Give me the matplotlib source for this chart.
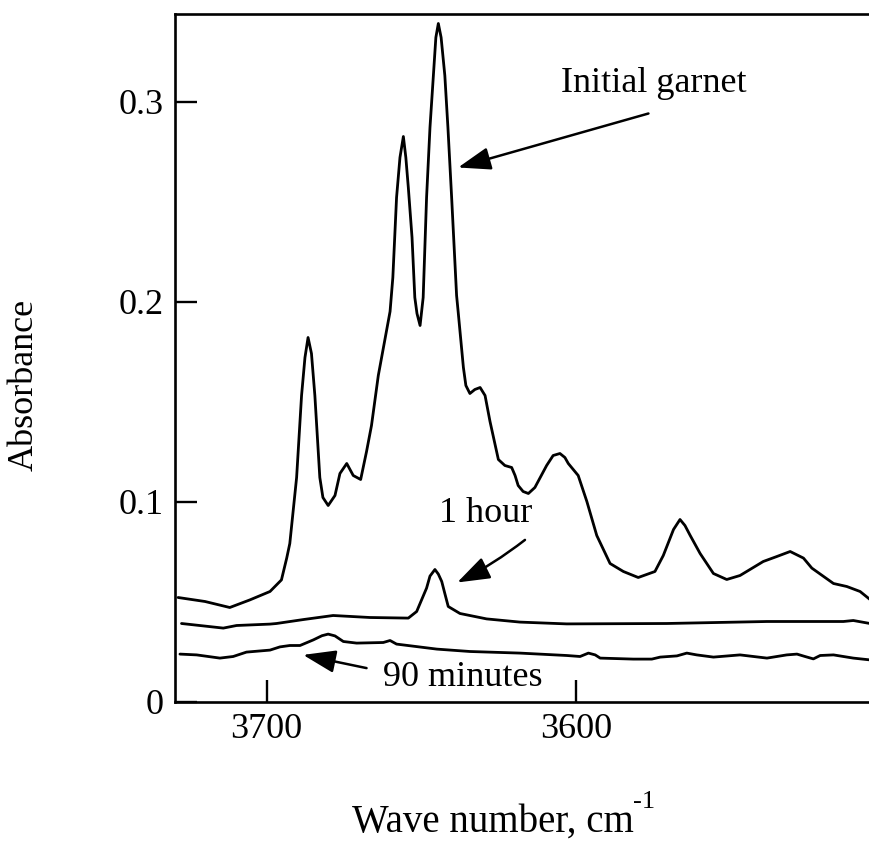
import matplotlib
matplotlib.use("Agg")
import matplotlib.pyplot as plt
from matplotlib.ticker import FixedLocator, FixedFormatter

plt.rcParams['font.family'] = ['Liberation Serif', 'DejaVu Serif']

# ---- data (wavenumber cm^-1, absorbance) ----
garnet_w = [3728.6, 3719.9, 3711.9, 3705.4, 3698.9, 3695.2, 3693.5, 3692.5, 3690.3, 3688.7, 3687.6, 3686.6,
            3685.5, 3684.4, 3682.8, 3681.8, 3680.1, 3677.9, 3676.3, 3674.1, 3672.0, 3669.6,
            3667.7, 3666.1, 3663.9, 3660.1, 3659.2, 3658.0, 3656.9, 3655.8, 3655.0, 3654.2,
            3653.0, 3652.1, 3651.4, 3650.4, 3649.4, 3648.3, 3647.2, 3646.1, 3645.3, 3644.5,
            3643.6, 3642.4, 3641.4, 3640.2, 3638.6, 3638.1, 3636.4, 3635.6, 3634.3, 3632.7,
            3631.0, 3629.4, 3627.8, 3625.1, 3623.0, 3620.8, 3619.7, 3618.7, 3617.1, 3615.4,
            3613.3, 3609.5, 3607.4, 3605.2, 3603.6, 3602.5, 3599.3, 3596.5, 3593.3, 3589.0,
            3584.7, 3579.9, 3574.5, 3571.8, 3568.5, 3566.4, 3564.8, 3563.1, 3559.9, 3555.6,
            3551.3, 3547.0, 3539.5, 3535.1, 3530.8, 3526.5, 3523.8, 3516.8, 3512.5, 3508.2,
            3505.0]
garnet_a = [0.052, 0.050, 0.047, 0.0508, 0.055, 0.0608, 0.0717, 0.079, 0.112, 0.153, 0.172, 0.182,
            0.174, 0.153, 0.112, 0.102, 0.098, 0.103, 0.114, 0.119, 0.113, 0.111,
            0.125, 0.138, 0.163, 0.195, 0.212, 0.252, 0.272, 0.2825, 0.272, 0.257,
            0.232, 0.202, 0.194, 0.188, 0.202, 0.252, 0.287, 0.313, 0.332, 0.339,
            0.332, 0.313, 0.287, 0.252, 0.203, 0.195, 0.167, 0.158, 0.154, 0.156,
            0.157, 0.153, 0.140, 0.121, 0.118, 0.117, 0.113, 0.108, 0.105, 0.104,
            0.107, 0.118, 0.123, 0.124, 0.122, 0.119, 0.113, 0.100, 0.083, 0.069,
            0.065, 0.062, 0.065, 0.073, 0.086, 0.091, 0.088, 0.083, 0.074, 0.064,
            0.061, 0.063, 0.070, 0.0725, 0.075, 0.0717, 0.0667, 0.059, 0.0575, 0.055,
            0.051]

hour_w = [3727.5, 3714.0, 3709.7, 3698.9, 3696.8, 3688.0, 3678.5, 3666.6, 3654.2, 3651.5, 3648.3,
          3647.2, 3645.6, 3644.5, 3643.4, 3642.4, 3641.3, 3637.5, 3628.9, 3618.1, 3603.0,
          3570.7, 3538.3, 3513.6, 3510.4, 3505.0]
hour_a = [0.039, 0.0367, 0.038, 0.0387, 0.039, 0.041, 0.043, 0.042, 0.0417, 0.045, 0.0567,
          0.0627, 0.066, 0.0637, 0.060, 0.054, 0.0475, 0.044, 0.0413, 0.0397, 0.0388,
          0.039, 0.040, 0.040, 0.0405, 0.039]

min90_w = [3728.0, 3722.6, 3715.1, 3710.8, 3706.5, 3698.9, 3695.7, 3692.5, 3689.2, 3684.9,
           3682.1, 3680.1, 3677.9, 3675.2, 3670.9, 3662.3, 3660.1, 3658.0, 3645.0, 3634.3,
           3618.1, 3603.0, 3598.7, 3596.0, 3593.8, 3592.2, 3581.5, 3575.5, 3572.8, 3567.4,
           3564.2, 3561.0, 3555.6, 3547.0, 3538.3, 3531.9, 3528.6, 3526.0, 3523.3, 3521.1,
           3516.8, 3510.4, 3505.0]
min90_a = [0.0237, 0.0233, 0.0217, 0.0225, 0.0247, 0.0257, 0.0273, 0.028, 0.028, 0.0308,
           0.0329, 0.0337, 0.0328, 0.030, 0.0292, 0.0295, 0.0305, 0.0287, 0.0262, 0.025,
           0.0242, 0.023, 0.0225, 0.0242, 0.0233, 0.0217, 0.0212, 0.0212, 0.0222, 0.0228,
           0.0242, 0.0233, 0.0222, 0.0233, 0.0217, 0.0233, 0.0237, 0.0225, 0.0213, 0.023,
           0.0233, 0.0217, 0.0208]

x_ticks = [3700, 3600]
x_tick_labels = ["3700", "3600"]
y_ticks = [0, 0.1, 0.2, 0.3]
y_tick_labels = ["0", "0.1", "0.2", "0.3"]

labels = ["Initial garnet", "1 hour", "90 minutes"]

# ---- figure ----
fig = plt.figure(figsize=(8.7, 8.42), dpi=100)
ax = fig.add_axes([175/870, 1 - 701.5/842, 1 - 175/870, (701.5 - 14.3)/842])

lw = 2.0
for w, a in [(garnet_w, garnet_a), (hour_w, hour_a), (min90_w, min90_a)]:
    ax.plot(w, a, color='black', lw=lw, solid_joinstyle='round', solid_capstyle='round')

ax.set_xlim(3729.6, 3505.0)
ax.set_ylim(0, 0.3436)

ax.xaxis.set_major_locator(FixedLocator(x_ticks))
ax.xaxis.set_major_formatter(FixedFormatter(x_tick_labels))
ax.yaxis.set_major_locator(FixedLocator(y_ticks))
ax.yaxis.set_major_formatter(FixedFormatter(y_tick_labels))
ax.tick_params(direction='in', length=15.8, width=1.7, labelsize=26, pad=8,
               top=False, right=False)

for s in ['left', 'top', 'bottom']:
    ax.spines[s].set_linewidth(1.9)
ax.spines['right'].set_visible(False)

fs = 26
arrow_style = '-|>,head_length=20,head_width=7'
ap = dict(arrowstyle=arrow_style, mutation_scale=1, color='black', lw=1.8,
          shrinkA=0, shrinkB=0)

# Initial garnet
ax.text(3574.8, 0.305, labels[0], fontsize=fs, ha='center', va='baseline')
ax.annotate('', xy=(3638.1, 0.267), xytext=(3576.6, 0.294), arrowprops=ap)

# 1 hour
ax.text(3629.1, 0.090, labels[1], fontsize=fs, ha='center', va='baseline')
ax.annotate('', xy=(3638.4, 0.0595), xytext=(3616.5, 0.0808),
            arrowprops=dict(ap, connectionstyle='arc3,rad=-0.05'))

# 90 minutes
ax.text(3636.7, 0.0075, labels[2], fontsize=fs, ha='center', va='baseline')
ax.annotate('', xy=(3688.2, 0.0233), xytext=(3667.7, 0.0167), arrowprops=ap)

# axis labels
fig.text(24.5/870, 1 - 385/842, "Absorbance", rotation=90, fontsize=fs,
         ha='center', va='center')
fig.text(352/870, 1 - 832/842, "Wave number, cm", fontsize=28, ha='left', va='baseline')
fig.text(633/870, 1 - 808/842, "-1", fontsize=19, ha='left', va='baseline')

fig.savefig("out.png", dpi=100)
